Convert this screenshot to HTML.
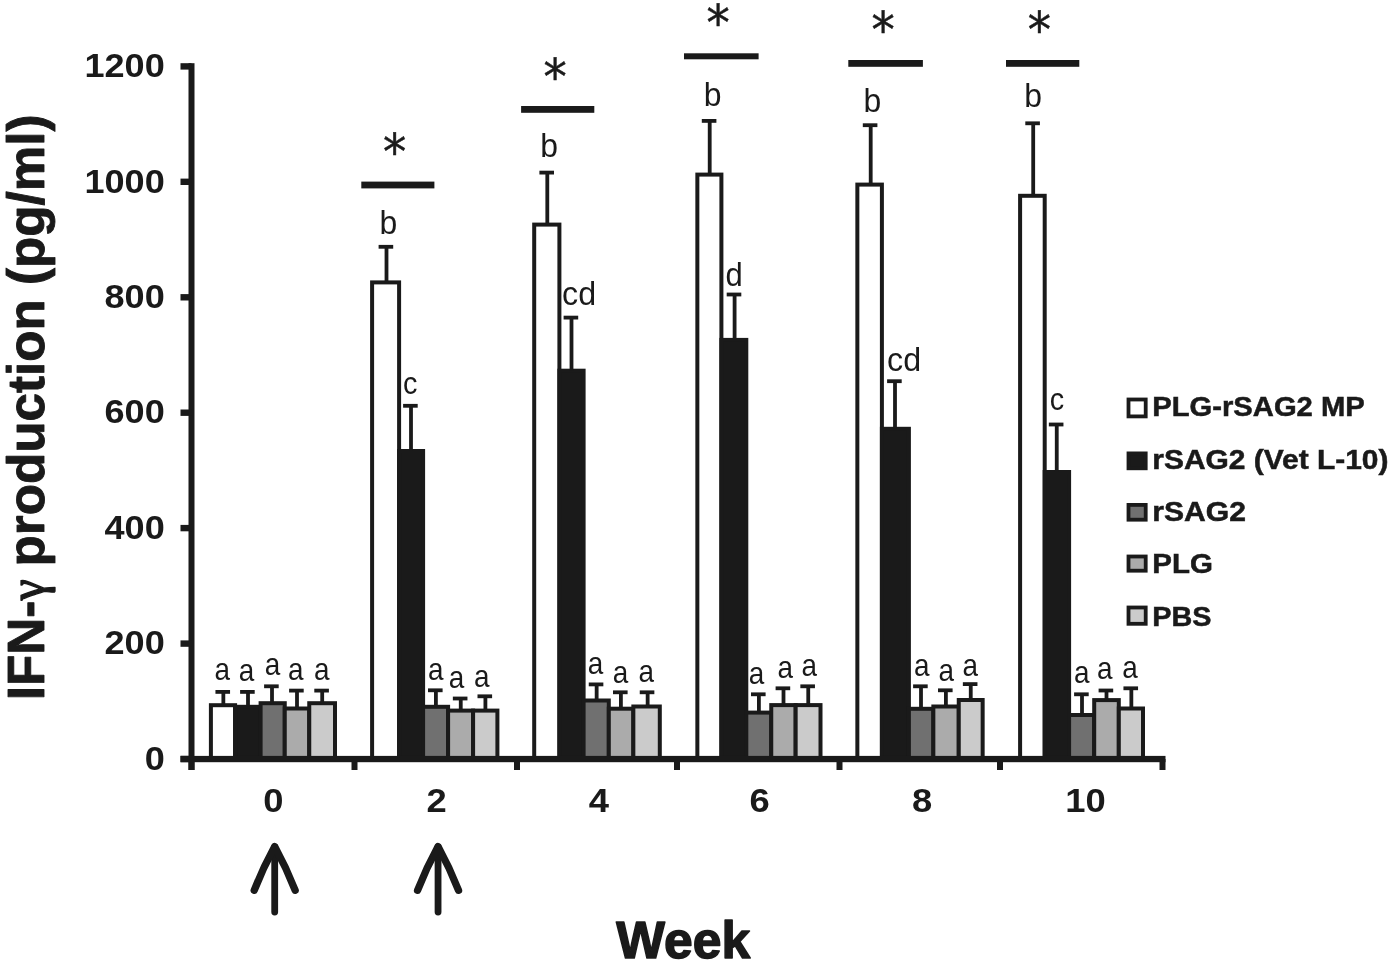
<!DOCTYPE html>
<html lang="en"><head><meta charset="utf-8"><title>IFN-γ production</title>
<style>html,body{margin:0;padding:0;background:#fff}body{width:1400px;height:968px;overflow:hidden}svg{display:block;filter:blur(0.45px)}text{font-family:"Liberation Sans",sans-serif;fill:#1a1a1a}.b{font-weight:bold}.lt{font-size:31px}</style></head><body>
<svg width="1400" height="968" viewBox="0 0 1400 968">
<rect width="1400" height="968" fill="#ffffff"/>
<rect x="210.90" y="705.20" width="24.20" height="53.80" fill="#ffffff" stroke="#1a1a1a" stroke-width="4.0"/>
<rect x="235.10" y="706.80" width="25.50" height="52.20" fill="#1a1a1a" stroke="#1a1a1a" stroke-width="4.0"/>
<rect x="260.60" y="703.20" width="24.15" height="55.80" fill="#707070" stroke="#1a1a1a" stroke-width="4.0"/>
<rect x="284.75" y="708.50" width="24.50" height="50.50" fill="#ababab" stroke="#1a1a1a" stroke-width="4.0"/>
<rect x="309.25" y="703.20" width="25.75" height="55.80" fill="#cbcbcb" stroke="#1a1a1a" stroke-width="4.0"/>
<rect x="221.45" y="691.00" width="3.8" height="14.20" fill="#1a1a1a"/>
<rect x="215.45" y="690.00" width="14.6" height="3.8" fill="#1a1a1a"/>
<rect x="246.10" y="691.00" width="3.8" height="15.80" fill="#1a1a1a"/>
<rect x="240.10" y="690.00" width="14.6" height="3.8" fill="#1a1a1a"/>
<rect x="270.10" y="685.40" width="3.8" height="17.80" fill="#1a1a1a"/>
<rect x="264.10" y="684.40" width="14.6" height="3.8" fill="#1a1a1a"/>
<rect x="295.10" y="689.70" width="3.8" height="18.80" fill="#1a1a1a"/>
<rect x="289.10" y="688.70" width="14.6" height="3.8" fill="#1a1a1a"/>
<rect x="320.30" y="689.70" width="3.8" height="13.50" fill="#1a1a1a"/>
<rect x="314.30" y="688.70" width="14.6" height="3.8" fill="#1a1a1a"/>
<rect x="372.10" y="282.40" width="27.00" height="476.60" fill="#ffffff" stroke="#1a1a1a" stroke-width="4.0"/>
<rect x="399.10" y="451.00" width="24.00" height="308.00" fill="#1a1a1a" stroke="#1a1a1a" stroke-width="4.0"/>
<rect x="423.10" y="706.80" width="25.00" height="52.20" fill="#707070" stroke="#1a1a1a" stroke-width="4.0"/>
<rect x="448.10" y="710.60" width="25.00" height="48.40" fill="#ababab" stroke="#1a1a1a" stroke-width="4.0"/>
<rect x="473.10" y="710.60" width="24.30" height="48.40" fill="#cbcbcb" stroke="#1a1a1a" stroke-width="4.0"/>
<rect x="384.60" y="245.90" width="3.8" height="36.50" fill="#1a1a1a"/>
<rect x="378.60" y="244.90" width="14.6" height="3.8" fill="#1a1a1a"/>
<rect x="409.10" y="404.90" width="3.8" height="46.10" fill="#1a1a1a"/>
<rect x="403.10" y="403.90" width="14.6" height="3.8" fill="#1a1a1a"/>
<rect x="434.00" y="689.40" width="3.8" height="17.40" fill="#1a1a1a"/>
<rect x="428.00" y="688.40" width="14.6" height="3.8" fill="#1a1a1a"/>
<rect x="458.85" y="697.60" width="3.8" height="13.00" fill="#1a1a1a"/>
<rect x="452.85" y="696.60" width="14.6" height="3.8" fill="#1a1a1a"/>
<rect x="483.50" y="695.40" width="3.8" height="15.20" fill="#1a1a1a"/>
<rect x="477.50" y="694.40" width="14.6" height="3.8" fill="#1a1a1a"/>
<rect x="534.20" y="224.60" width="25.20" height="534.40" fill="#ffffff" stroke="#1a1a1a" stroke-width="4.0"/>
<rect x="559.40" y="370.70" width="24.20" height="388.30" fill="#1a1a1a" stroke="#1a1a1a" stroke-width="4.0"/>
<rect x="583.60" y="700.50" width="25.20" height="58.50" fill="#707070" stroke="#1a1a1a" stroke-width="4.0"/>
<rect x="608.80" y="708.70" width="24.55" height="50.30" fill="#ababab" stroke="#1a1a1a" stroke-width="4.0"/>
<rect x="633.35" y="706.50" width="26.45" height="52.50" fill="#cbcbcb" stroke="#1a1a1a" stroke-width="4.0"/>
<rect x="545.40" y="171.70" width="3.8" height="52.90" fill="#1a1a1a"/>
<rect x="539.40" y="170.70" width="14.6" height="3.8" fill="#1a1a1a"/>
<rect x="569.60" y="316.70" width="3.8" height="54.00" fill="#1a1a1a"/>
<rect x="563.60" y="315.70" width="14.6" height="3.8" fill="#1a1a1a"/>
<rect x="594.75" y="683.50" width="3.8" height="17.00" fill="#1a1a1a"/>
<rect x="588.75" y="682.50" width="14.6" height="3.8" fill="#1a1a1a"/>
<rect x="619.00" y="691.40" width="3.8" height="17.30" fill="#1a1a1a"/>
<rect x="613.00" y="690.40" width="14.6" height="3.8" fill="#1a1a1a"/>
<rect x="645.75" y="691.40" width="3.8" height="15.10" fill="#1a1a1a"/>
<rect x="639.75" y="690.40" width="14.6" height="3.8" fill="#1a1a1a"/>
<rect x="697.35" y="174.60" width="24.05" height="584.40" fill="#ffffff" stroke="#1a1a1a" stroke-width="4.0"/>
<rect x="721.40" y="339.90" width="24.90" height="419.10" fill="#1a1a1a" stroke="#1a1a1a" stroke-width="4.0"/>
<rect x="746.30" y="712.60" width="24.95" height="46.40" fill="#707070" stroke="#1a1a1a" stroke-width="4.0"/>
<rect x="771.25" y="705.10" width="24.40" height="53.90" fill="#ababab" stroke="#1a1a1a" stroke-width="4.0"/>
<rect x="795.65" y="705.10" width="24.85" height="53.90" fill="#cbcbcb" stroke="#1a1a1a" stroke-width="4.0"/>
<rect x="707.80" y="120.00" width="3.8" height="54.60" fill="#1a1a1a"/>
<rect x="701.80" y="119.00" width="14.6" height="3.8" fill="#1a1a1a"/>
<rect x="732.70" y="293.60" width="3.8" height="46.30" fill="#1a1a1a"/>
<rect x="726.70" y="292.60" width="14.6" height="3.8" fill="#1a1a1a"/>
<rect x="757.00" y="693.40" width="3.8" height="19.20" fill="#1a1a1a"/>
<rect x="751.00" y="692.40" width="14.6" height="3.8" fill="#1a1a1a"/>
<rect x="781.60" y="687.40" width="3.8" height="17.70" fill="#1a1a1a"/>
<rect x="775.60" y="686.40" width="14.6" height="3.8" fill="#1a1a1a"/>
<rect x="806.35" y="685.40" width="3.8" height="19.70" fill="#1a1a1a"/>
<rect x="800.35" y="684.40" width="14.6" height="3.8" fill="#1a1a1a"/>
<rect x="857.35" y="184.60" width="24.55" height="574.40" fill="#ffffff" stroke="#1a1a1a" stroke-width="4.0"/>
<rect x="881.90" y="428.80" width="27.00" height="330.20" fill="#1a1a1a" stroke="#1a1a1a" stroke-width="4.0"/>
<rect x="908.90" y="708.80" width="24.45" height="50.20" fill="#707070" stroke="#1a1a1a" stroke-width="4.0"/>
<rect x="933.35" y="706.50" width="25.40" height="52.50" fill="#ababab" stroke="#1a1a1a" stroke-width="4.0"/>
<rect x="958.75" y="700.00" width="23.90" height="59.00" fill="#cbcbcb" stroke="#1a1a1a" stroke-width="4.0"/>
<rect x="868.80" y="124.30" width="3.8" height="60.30" fill="#1a1a1a"/>
<rect x="862.80" y="123.30" width="14.6" height="3.8" fill="#1a1a1a"/>
<rect x="893.10" y="380.30" width="3.8" height="48.50" fill="#1a1a1a"/>
<rect x="887.10" y="379.30" width="14.6" height="3.8" fill="#1a1a1a"/>
<rect x="919.10" y="685.40" width="3.8" height="23.40" fill="#1a1a1a"/>
<rect x="913.10" y="684.40" width="14.6" height="3.8" fill="#1a1a1a"/>
<rect x="944.00" y="689.40" width="3.8" height="17.10" fill="#1a1a1a"/>
<rect x="938.00" y="688.40" width="14.6" height="3.8" fill="#1a1a1a"/>
<rect x="968.85" y="683.20" width="3.8" height="16.80" fill="#1a1a1a"/>
<rect x="962.85" y="682.20" width="14.6" height="3.8" fill="#1a1a1a"/>
<rect x="1020.10" y="195.80" width="24.60" height="563.20" fill="#ffffff" stroke="#1a1a1a" stroke-width="4.0"/>
<rect x="1044.70" y="472.00" width="24.40" height="287.00" fill="#1a1a1a" stroke="#1a1a1a" stroke-width="4.0"/>
<rect x="1069.10" y="715.00" width="25.10" height="44.00" fill="#707070" stroke="#1a1a1a" stroke-width="4.0"/>
<rect x="1094.20" y="700.10" width="24.60" height="58.90" fill="#ababab" stroke="#1a1a1a" stroke-width="4.0"/>
<rect x="1118.80" y="708.50" width="24.20" height="50.50" fill="#cbcbcb" stroke="#1a1a1a" stroke-width="4.0"/>
<rect x="1031.30" y="122.40" width="3.8" height="73.40" fill="#1a1a1a"/>
<rect x="1025.30" y="121.40" width="14.6" height="3.8" fill="#1a1a1a"/>
<rect x="1054.85" y="423.60" width="3.8" height="48.40" fill="#1a1a1a"/>
<rect x="1048.85" y="422.60" width="14.6" height="3.8" fill="#1a1a1a"/>
<rect x="1080.10" y="693.40" width="3.8" height="21.60" fill="#1a1a1a"/>
<rect x="1074.10" y="692.40" width="14.6" height="3.8" fill="#1a1a1a"/>
<rect x="1104.60" y="689.60" width="3.8" height="10.50" fill="#1a1a1a"/>
<rect x="1098.60" y="688.60" width="14.6" height="3.8" fill="#1a1a1a"/>
<rect x="1129.45" y="687.40" width="3.8" height="21.10" fill="#1a1a1a"/>
<rect x="1123.45" y="686.40" width="14.6" height="3.8" fill="#1a1a1a"/>
<rect x="188.5" y="63.2" width="6" height="706.8" fill="#1a1a1a"/>
<rect x="180.5" y="755.9" width="985" height="6.3" fill="#1a1a1a"/>
<rect x="180.5" y="63.20" width="11" height="6.4" fill="#1a1a1a"/>
<rect x="180.5" y="178.60" width="11" height="6.4" fill="#1a1a1a"/>
<rect x="180.5" y="294.10" width="11" height="6.4" fill="#1a1a1a"/>
<rect x="180.5" y="409.50" width="11" height="6.4" fill="#1a1a1a"/>
<rect x="180.5" y="524.90" width="11" height="6.4" fill="#1a1a1a"/>
<rect x="180.5" y="640.40" width="11" height="6.4" fill="#1a1a1a"/>
<rect x="180.5" y="755.80" width="11" height="6.4" fill="#1a1a1a"/>
<rect x="188.50" y="759" width="6" height="11" fill="#1a1a1a"/>
<rect x="351.50" y="759" width="6" height="11" fill="#1a1a1a"/>
<rect x="514.00" y="759" width="6" height="11" fill="#1a1a1a"/>
<rect x="674.00" y="759" width="6" height="11" fill="#1a1a1a"/>
<rect x="836.50" y="759" width="6" height="11" fill="#1a1a1a"/>
<rect x="997.00" y="759" width="6" height="11" fill="#1a1a1a"/>
<rect x="1159.50" y="759" width="6" height="11" fill="#1a1a1a"/>
<text class="b" font-size="32.5" text-anchor="end" transform="translate(164.7,77.10) scale(1.11,1)">1200</text>
<text class="b" font-size="32.5" text-anchor="end" transform="translate(164.7,192.50) scale(1.11,1)">1000</text>
<text class="b" font-size="32.5" text-anchor="end" transform="translate(164.7,308.00) scale(1.11,1)">800</text>
<text class="b" font-size="32.5" text-anchor="end" transform="translate(164.7,423.40) scale(1.11,1)">600</text>
<text class="b" font-size="32.5" text-anchor="end" transform="translate(164.7,538.80) scale(1.11,1)">400</text>
<text class="b" font-size="32.5" text-anchor="end" transform="translate(164.7,654.30) scale(1.11,1)">200</text>
<text class="b" font-size="32.5" text-anchor="end" transform="translate(164.7,769.70) scale(1.11,1)">0</text>
<text class="b" font-size="32.5" text-anchor="middle" transform="translate(273.30,812) scale(1.12,1)">0</text>
<text class="b" font-size="32.5" text-anchor="middle" transform="translate(436.70,812) scale(1.12,1)">2</text>
<text class="b" font-size="32.5" text-anchor="middle" transform="translate(598.80,812) scale(1.12,1)">4</text>
<text class="b" font-size="32.5" text-anchor="middle" transform="translate(759.60,812) scale(1.12,1)">6</text>
<text class="b" font-size="32.5" text-anchor="middle" transform="translate(922.10,812) scale(1.12,1)">8</text>
<text class="b" font-size="32.5" text-anchor="middle" transform="translate(1085.60,812) scale(1.12,1)">10</text>
<text class="lt" text-anchor="middle" transform="translate(222.20,679.50) scale(0.90,1.00)">a</text>
<text class="lt" text-anchor="middle" transform="translate(246.50,681.30) scale(0.90,1.00)">a</text>
<text class="lt" text-anchor="middle" transform="translate(272.60,674.80) scale(0.90,1.00)">a</text>
<text class="lt" text-anchor="middle" transform="translate(295.70,679.50) scale(0.90,1.00)">a</text>
<text class="lt" text-anchor="middle" transform="translate(321.80,679.50) scale(0.90,1.00)">a</text>
<text class="lt" text-anchor="middle" transform="translate(388.30,233.50) scale(1.03,1.07)">b</text>
<text class="lt" text-anchor="middle" transform="translate(410.20,394.20) scale(0.93,1.00)">c</text>
<text class="lt" text-anchor="middle" transform="translate(435.70,680.30) scale(0.90,1.00)">a</text>
<text class="lt" text-anchor="middle" transform="translate(456.60,688.30) scale(0.90,1.00)">a</text>
<text class="lt" text-anchor="middle" transform="translate(481.80,687.30) scale(0.90,1.00)">a</text>
<text class="lt" text-anchor="middle" transform="translate(549.20,156.90) scale(1.03,1.07)">b</text>
<text class="lt" text-anchor="middle" transform="translate(579.10,304.80) scale(1.04,1.07)">cd</text>
<text class="lt" text-anchor="middle" transform="translate(595.60,673.80) scale(0.90,1.00)">a</text>
<text class="lt" text-anchor="middle" transform="translate(620.60,682.60) scale(0.90,1.00)">a</text>
<text class="lt" text-anchor="middle" transform="translate(646.20,681.60) scale(0.90,1.00)">a</text>
<text class="lt" text-anchor="middle" transform="translate(712.50,106.20) scale(1.03,1.07)">b</text>
<text class="lt" text-anchor="middle" transform="translate(734.00,285.80) scale(1.00,1.07)">d</text>
<text class="lt" text-anchor="middle" transform="translate(756.60,683.60) scale(0.90,1.00)">a</text>
<text class="lt" text-anchor="middle" transform="translate(785.20,678.00) scale(0.90,1.00)">a</text>
<text class="lt" text-anchor="middle" transform="translate(809.20,676.00) scale(0.90,1.00)">a</text>
<text class="lt" text-anchor="middle" transform="translate(872.40,111.90) scale(1.03,1.07)">b</text>
<text class="lt" text-anchor="middle" transform="translate(904.10,371.00) scale(1.04,1.07)">cd</text>
<text class="lt" text-anchor="middle" transform="translate(921.80,676.00) scale(0.90,1.00)">a</text>
<text class="lt" text-anchor="middle" transform="translate(946.20,680.60) scale(0.90,1.00)">a</text>
<text class="lt" text-anchor="middle" transform="translate(970.20,676.00) scale(0.90,1.00)">a</text>
<text class="lt" text-anchor="middle" transform="translate(1033.20,107.20) scale(1.03,1.07)">b</text>
<text class="lt" text-anchor="middle" transform="translate(1056.90,410.30) scale(0.93,1.00)">c</text>
<text class="lt" text-anchor="middle" transform="translate(1081.80,682.80) scale(0.90,1.00)">a</text>
<text class="lt" text-anchor="middle" transform="translate(1104.80,679.30) scale(0.90,1.00)">a</text>
<text class="lt" text-anchor="middle" transform="translate(1130.00,678.30) scale(0.90,1.00)">a</text>
<rect x="361.30" y="181.60" width="73.10" height="6.80" fill="#1a1a1a"/>
<text class="ast" text-anchor="middle" font-size="50" stroke="#1a1a1a" stroke-width="0.5" style="font-family:'DejaVu Sans',sans-serif" transform="translate(394.50,169.40) scale(0.93,1)">*</text>
<rect x="521.10" y="106.00" width="73.20" height="6.80" fill="#1a1a1a"/>
<text class="ast" text-anchor="middle" font-size="50" stroke="#1a1a1a" stroke-width="0.5" style="font-family:'DejaVu Sans',sans-serif" transform="translate(555.00,93.80) scale(0.93,1)">*</text>
<rect x="684.00" y="53.30" width="74.60" height="6.00" fill="#1a1a1a"/>
<text class="ast" text-anchor="middle" font-size="50" stroke="#1a1a1a" stroke-width="0.5" style="font-family:'DejaVu Sans',sans-serif" transform="translate(718.20,40.20) scale(0.93,1)">*</text>
<rect x="848.30" y="60.00" width="74.60" height="6.80" fill="#1a1a1a"/>
<text class="ast" text-anchor="middle" font-size="50" stroke="#1a1a1a" stroke-width="0.5" style="font-family:'DejaVu Sans',sans-serif" transform="translate(883.10,46.90) scale(0.93,1)">*</text>
<rect x="1006.00" y="60.00" width="73.30" height="6.80" fill="#1a1a1a"/>
<text class="ast" text-anchor="middle" font-size="50" stroke="#1a1a1a" stroke-width="0.5" style="font-family:'DejaVu Sans',sans-serif" transform="translate(1039.40,46.90) scale(0.93,1)">*</text>
<rect x="1128.50" y="399.50" width="17.2" height="16.90" fill="#ffffff" stroke="#1a1a1a" stroke-width="3.8"/>
<text class="b" font-size="26.8" x="1152.3" y="416.40" textLength="212.4" lengthAdjust="spacingAndGlyphs" stroke="#1a1a1a" stroke-width="0.5">PLG-rSAG2 MP</text>
<rect x="1128.50" y="453.40" width="17.2" height="14.90" fill="#1a1a1a" stroke="#1a1a1a" stroke-width="3.8"/>
<text class="b" font-size="26.8" x="1152.3" y="469.30" textLength="236.2" lengthAdjust="spacingAndGlyphs" stroke="#1a1a1a" stroke-width="0.5">rSAG2 (Vet L-10)</text>
<rect x="1128.50" y="504.90" width="17.2" height="14.80" fill="#707070" stroke="#1a1a1a" stroke-width="3.8"/>
<text class="b" font-size="26.8" x="1152.3" y="521.40" textLength="93.7" lengthAdjust="spacingAndGlyphs" stroke="#1a1a1a" stroke-width="0.5">rSAG2</text>
<rect x="1128.50" y="556.50" width="17.2" height="14.20" fill="#ababab" stroke="#1a1a1a" stroke-width="3.8"/>
<text class="b" font-size="26.8" x="1152.3" y="572.80" textLength="60.6" lengthAdjust="spacingAndGlyphs" stroke="#1a1a1a" stroke-width="0.5">PLG</text>
<rect x="1128.50" y="607.50" width="17.2" height="16.30" fill="#cbcbcb" stroke="#1a1a1a" stroke-width="3.8"/>
<text class="b" font-size="26.8" x="1152.3" y="625.60" textLength="59.2" lengthAdjust="spacingAndGlyphs" stroke="#1a1a1a" stroke-width="0.5">PBS</text>
<g fill="none" stroke="#1a1a1a" stroke-linecap="round" stroke-linejoin="round"><path d="M274.70 912V847" stroke-width="6.8"/><path d="M254.20 890.3Q263.10 867.8 274.70 846.6Q286.30 867.8 295.20 890.3" stroke-width="7.3"/></g>
<g fill="none" stroke="#1a1a1a" stroke-linecap="round" stroke-linejoin="round"><path d="M438.05 912V847" stroke-width="6.8"/><path d="M417.55 890.3Q426.45 867.8 438.05 846.6Q449.65 867.8 458.55 890.3" stroke-width="7.3"/></g>
<text class="b" font-size="52" x="616.3" y="958.2" textLength="133.8" lengthAdjust="spacingAndGlyphs" stroke="#1a1a1a" stroke-width="1.5" stroke-linejoin="round">Week</text>
<g transform="translate(44.00,0)" stroke="#1a1a1a" stroke-width="0.9" stroke-linejoin="round">
<text class="b" font-size="51.2" transform="translate(0,700.20) rotate(-90)">IFN-</text>
<text font-size="50.0" font-weight="normal" style="font-family:'Liberation Serif',serif" stroke-width="1.3" transform="translate(0,600.20) rotate(-90) scale(0.95,1)">γ</text>
<text class="b" font-size="51.2" transform="translate(0,566.50) rotate(-90)">production (pg/ml)</text>
</g>
</svg></body></html>
